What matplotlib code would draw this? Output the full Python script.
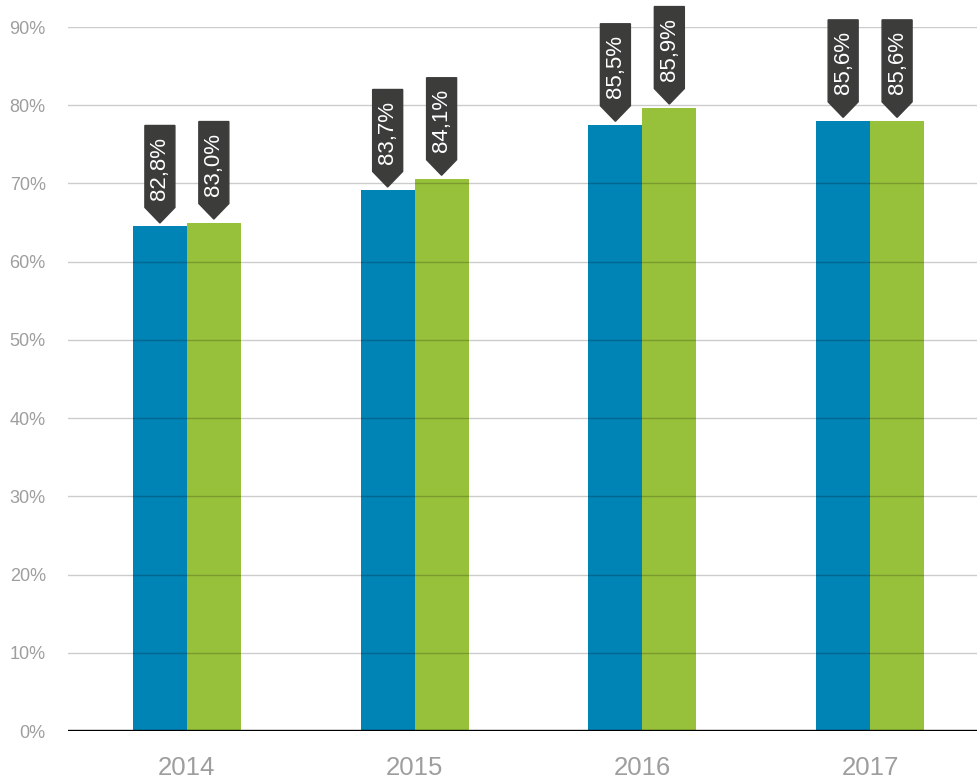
import matplotlib
matplotlib.use('Agg')
import matplotlib.pyplot as plt
import matplotlib.transforms as mtransforms
from matplotlib.patches import Polygon
import numpy as np

plt.rcParams['font.family'] = ['Liberation Sans', 'DejaVu Sans']

years = ['2014', '2015', '2016', '2017']
blue_values = [64.5, 69.1, 77.5, 78.0]
green_values = [65.0, 70.6, 79.7, 78.0]
blue_labels = ['82,8%', '83,7%', '85,5%', '85,6%']
green_labels = ['83,0%', '84,1%', '85,9%', '85,6%']
y_ticks = [0, 10, 20, 30, 40, 50, 60, 70, 80, 90]
y_tick_labels = [f'{t}%' for t in y_ticks]

blue = '#0083b5'
green = '#97c13a'
flag_color = '#3c3c3b'
text_gray = '#9e9e9e'

fig = plt.figure(figsize=(9.78, 7.84), dpi=100)
ax = fig.add_axes([68 / 978, 1 - 731 / 784, 1 - 68 / 978, (731 - 27) / 784])

x = np.arange(len(years))
w = 54 / 228
ax.bar(x - w / 2, blue_values, w, color=blue, zorder=2)
ax.bar(x + w / 2, green_values, w, color=green, zorder=2)

ax.set_xlim(-119 / 228, 3 + 108 / 228)
ax.set_ylim(0, 90)

# gridlines sit over the bars, semi transparent
for t in y_ticks[1:]:
    ax.axhline(t, color='black', alpha=0.2, lw=1, zorder=3)
ax.axhline(0, color='black', lw=1.7, zorder=4)

for s in ax.spines.values():
    s.set_visible(False)

ax.set_yticks(y_ticks)
ax.set_yticklabels(y_tick_labels)
ax.set_xticks(x)
ax.set_xticklabels(years)
ax.tick_params(axis='y', length=0, pad=16, labelsize=13, labelcolor=text_gray)
ax.tick_params(axis='x', length=0, pad=18, labelsize=18.5, labelcolor=text_gray)


def flag(xc, top, label):
    # arrow shaped label box, drawn in pixels above the bar top
    trans = mtransforms.ScaledTranslation(xc, top, ax.transData)
    verts = [(0, 3.5), (-15, 19), (-15, 101), (15, 101), (15, 19)]
    ax.add_patch(Polygon(verts, closed=True, color=flag_color, transform=trans,
                         clip_on=False, zorder=5))
    ax.text(0, 58, label, transform=trans, rotation=90, color='white',
            fontsize=16, ha='center', va='center', zorder=6, clip_on=False)


for i in range(len(years)):
    flag(x[i] - w / 2, blue_values[i], blue_labels[i])
    flag(x[i] + w / 2, green_values[i], green_labels[i])

plt.savefig('out.png', dpi=100)
